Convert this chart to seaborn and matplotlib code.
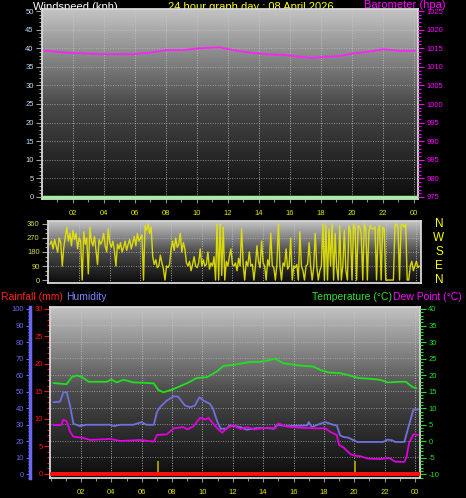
import numpy as np
import pandas as pd
import seaborn as sns
import matplotlib.pyplot as plt
from matplotlib.colors import LinearSegmentedColormap
from matplotlib.ticker import MultipleLocator, FixedLocator, FixedFormatter
import matplotlib.transforms as mtransforms

# ---- data ----
baro_hours = [0.17, 1.6, 3.76, 5.9, 7.0, 8.06, 9.1, 10.2, 11.5, 12.35, 13.4, 14.5,
              15.6, 16.7, 17.4, 18.4, 19.25, 20.1, 21.0, 22.0, 23.1, 24.07]
baro_hpa = [1014.3, 1013.8, 1013.4, 1013.4, 1013.8, 1014.5, 1014.5, 1015.0, 1015.2,
            1014.5, 1013.8, 1013.4, 1013.2, 1012.7, 1012.4, 1012.7, 1012.9, 1013.6,
            1014.0, 1014.7, 1014.3, 1014.3]

speed_hours = [0.0, 24.3]
speed_kph = [0, 0]

# wind direction, one reading every 6 minutes
wind_dir = [
    230, 250, 200, 260, 220, 180, 270, 240, 90, 210,
    280, 340, 250, 300, 220, 320, 260, 300, 200, 270,
    250, 0, 310, 230, 270, 40, 340, 250, 220, 280,
    190, 100, 260, 230, 250, 300, 220, 180, 330, 240,
    210, 250, 190, 90, 230, 200, 240, 180, 210, 250,
    190, 230, 260, 200, 240, 280, 220, 300, 250, 270,
    290, 0, 350, 320, 360, 300, 340, 150, 100, 130,
    80, 90, 160, 110, 70, 0, 90, 80, 100, 200,
    250, 190, 270, 210, 230, 300, 180, 240, 200, 110,
    90, 120, 60, 100, 150, 90, 80, 110, 200, 90,
    130, 90, 100, 180, 70, 110, 90, 150, 0, 360,
    0, 360, 30, 340, 0, 120, 90, 150, 200, 100,
    90, 110, 60, 140, 90, 330, 100, 0, 120, 90,
    180, 90, 100, 0, 90, 220, 120, 80, 250, 110,
    90, 0, 130, 90, 300, 90, 80, 0, 100, 360,
    90, 0, 110, 90, 200, 70, 90, 270, 0, 90,
    80, 100, 0, 310, 90, 60, 0, 90, 100, 240,
    90, 0, 80, 300, 90, 0, 60, 90, 360, 0,
    350, 0, 330, 90, 360, 0, 300, 80, 0, 350,
    0, 90, 320, 60, 0, 350, 310, 0, 360, 330,
    0, 350, 340, 300, 0, 360, 330, 0, 310, 350,
    330, 330, 340, 0, 320, 350, 0, 340, 330, 0,
    0, 0, 0, 0, 0, 350, 360, 340, 0, 350,
    360, 340, 360, 0, 0, 90, 120, 60, 90, 120,
    80, 90,
]
dir_step_h = 0.1

temp_hours = [0.18, 1.06, 1.39, 1.72, 2.05, 2.5, 3.7, 4.0, 4.35, 4.8, 5.45, 6.1, 6.8,
              7.1, 7.43, 8.1, 9.0, 9.6, 10.3, 10.95, 11.4, 12.05, 13.15, 13.8, 14.25,
              14.8, 15.3, 16.4, 17.3, 17.75, 18.3, 19.07, 19.7, 20.3, 21.05, 21.7,
              22.2, 23.0, 23.4, 23.8, 24.1]
temp_c = [17.6, 17.25, 19.4, 19.9, 19.5, 18.0, 18.0, 18.7, 17.8, 18.6, 17.8, 17.7,
          17.5, 15.5, 14.8, 15.8, 17.6, 19.1, 19.4, 21.1, 22.8, 23.1, 24.0, 24.0,
          24.4, 25.0, 23.6, 22.9, 22.6, 21.6, 20.8, 20.6, 19.9, 19.1, 18.9, 18.6,
          17.8, 18.0, 18.0, 16.5, 16.0]

hum_hours = [0.18, 0.62, 0.84, 1.06, 1.28, 1.5, 1.94, 2.37, 3.9, 4.2, 4.6, 5.45, 6.0,
             6.3, 6.8, 7.0, 7.2, 7.65, 8.1, 8.4, 8.85, 9.2, 9.5, 9.8, 10.07, 10.5,
             10.7, 10.95, 11.2, 11.6, 11.8, 12.5, 12.9, 13.6, 14.25, 14.7, 14.9,
             15.6, 16.9, 17.0, 17.2, 17.75, 18.1, 18.6, 18.85, 19.07, 19.3, 19.6,
             20.2, 21.9, 22.2, 22.5, 22.7, 23.3, 23.6, 23.9, 24.2]
hum_pct = [43.6, 44, 49.6, 49.6, 41.6, 30.6, 29.2, 30, 30, 29.2, 30, 30, 31.6, 30,
           30, 37.6, 40.6, 44.6, 47.2, 47, 41.6, 40.6, 41.6, 46.6, 44.6, 42.6, 39.6,
           32.6, 27.6, 27.6, 29.6, 28.6, 27, 28, 28, 27.6, 30, 29.2, 29.6, 31.6,
           28.6, 30.6, 31.6, 30, 29.6, 23.6, 22.6, 22.2, 19.6, 19.6, 21, 20.6, 19.6,
           19.6, 29.6, 39.2, 39.2]

dew_hours = [0.18, 0.7, 0.84, 1.06, 1.28, 1.5, 2.15, 2.6, 3.9, 4.6, 5.9, 6.8, 7.0,
             7.65, 8.1, 8.75, 9.0, 9.4, 9.85, 10.2, 10.4, 10.7, 11.05, 11.3, 11.6,
             12.05, 12.5, 12.9, 13.4, 14.25, 14.8, 15.0, 15.6, 16.4, 17.5, 18.1,
             18.4, 18.85, 19.0, 19.3, 19.75, 20.07, 20.4, 20.85, 21.7, 22.3, 22.7,
             23.3, 23.45, 23.6, 23.9, 24.2]
dew_c = [4.9, 4.9, 6.6, 6.0, 2.9, 1.4, 1.0, 0.4, 0.7, 0.1, 0.4, -0.1, 1.9, 2.1, 3.9,
         4.3, 3.6, 4.5, 7.1, 6.6, 7.1, 5.4, 3.6, 2.6, 3.9, 4.9, 3.7, 4.3, 3.6, 4.1,
         3.9, 5.4, 4.4, 4.1, 3.9, 3.9, 2.9, 1.9, -1.1, -1.9, -3.9, -4.4, -4.5, -5.2,
         -5.4, -5.0, -6.2, -6.2, -4.7, -0.6, 2.1, 1.9]

rain_hours = [0.0, 24.3]
rain_mm = [0, 0]
rain_mark_hours = [7.08, 20.07]
rain_mark_mm = [2.4, 2.4]

hour_ticks = [2, 4, 6, 8, 10, 12, 14, 16, 18, 20, 22, 24]
hour_labels = ["02", "04", "06", "08", "10", "12", "14", "16", "18", "20", "22", "00"]
compass_labels = ["N", "W", "S", "E", "N"]
compass_deg = [360, 270, 180, 90, 0]

# ---- style ----
sns.set_style("dark")
plt.rcParams['font.family'] = ['Liberation Sans', 'DejaVu Sans']
plt.rcParams['axes.unicode_minus'] = False

W, H = 466, 498
fig = plt.figure(figsize=(W / 100, H / 100), dpi=100, facecolor='black')

def box(l, t, r, b):
    return [l / W, 1 - b / H, (r - l) / W, (b - t) / H]

grad = LinearSegmentedColormap.from_list("bg", ["#0c0c0c", "#4a4a4a", "#c4c4c4"])
YEL = "#e8e800"
FS = 5.5
TFS = 8

def background(ax):
    x0, x1 = ax.get_xlim()
    y0, y1 = ax.get_ylim()
    g = np.linspace(0, 1, 256).reshape(-1, 1)
    ax.imshow(g, extent=[x0, x1, y0, y1], origin='lower', aspect='auto',
              cmap=grad, zorder=0, interpolation='bilinear')
    ax.set_xlim(x0, x1)
    ax.set_ylim(y0, y1)

def frame(ax):
    ax.set_facecolor('black')
    for s in ax.spines.values():
        s.set_color('#d8d8d8')
        s.set_linewidth(1.3)
    ax.grid(False)

def hour_axis(ax):
    ax.xaxis.set_major_locator(FixedLocator(hour_ticks))
    ax.xaxis.set_minor_locator(MultipleLocator(1))
    ax.xaxis.set_major_formatter(FixedFormatter(hour_labels))
    ax.tick_params(axis='x', which='major', colors='#909090', labelcolor=YEL,
                   labelsize=FS, length=3, width=0.8, pad=5, direction='out', bottom=True)
    ax.tick_params(axis='x', which='minor', colors='#909090', length=2, width=0.8,
                   direction='out', bottom=True)
    ax.set_xlabel("")

def vgrid(ax, ys):
    for h in hour_ticks:
        ax.axvline(h, color='#c8c8c8', lw=0.7, ls=(0, (1, 1.5)), zorder=1, alpha=0.8)
    for y in ys:
        ax.axhline(y, color='#c8c8c8', lw=0.7, ls=(0, (1, 1.5)), zorder=1, alpha=0.6)

# ================= top panel: windspeed / barometer =================
fig.text(33 / W, 1 - 10 / H, "Windspeed (kph)", color='white', fontsize=TFS,
         va='baseline', zorder=-1)
fig.text(251 / W, 1 - 10 / H, "24 hour graph day : 08 April 2026", color='#ffff00',
         fontsize=TFS, va='baseline', ha='center', zorder=-1)
fig.text(446 / W, 1 - 7.5 / H, "Barometer (hpa)", color='#ff00ff', fontsize=TFS,
         va='baseline', ha='right', zorder=-1)

ax1 = fig.add_axes(box(42, 9, 418, 199))
frame(ax1)
ax1.set_xlim(0.02, 24.28)
ax1.set_ylim(-0.54, 50.54)
background(ax1)
vgrid(ax1, range(5, 50, 5))
sns.lineplot(x=speed_hours, y=speed_kph, ax=ax1, color='#a0f0a0', lw=2.5, zorder=4)
ax1.yaxis.set_major_locator(MultipleLocator(5))
ax1.yaxis.set_minor_locator(MultipleLocator(1))
ax1.tick_params(axis='y', which='major', colors='#a0a0a0', labelcolor='#c0dcff',
                labelsize=FS, length=4, width=0.8, direction='out', left=True, pad=2)
ax1.tick_params(axis='y', which='minor', colors='#a0a0a0', length=2, width=0.8,
                direction='out', left=True)
hour_axis(ax1)
ax1.set_ylabel("")

ax1b = ax1.twinx()
ax1b.set_ylim(974.46, 1025.54)
sns.lineplot(x=baro_hours, y=baro_hpa, ax=ax1b, color='#ff20ff', lw=1.3, zorder=5)
ax1b.yaxis.set_major_locator(MultipleLocator(5))
ax1b.yaxis.set_minor_locator(MultipleLocator(1))
ax1b.tick_params(axis='y', which='major', colors='#ff00ff', labelcolor='#ff00ff',
                 labelsize=FS, length=4, width=0.8, direction='out', right=True, pad=2)
ax1b.tick_params(axis='y', which='minor', colors='#ff00ff', length=2, width=0.8,
                 direction='out', right=True)
ax1b.set_ylabel("")
ax1b.grid(False)
for s in ax1b.spines.values():
    s.set_visible(False)

# ================= middle panel: wind direction =================
ax2 = fig.add_axes(box(48, 221, 421, 283))
frame(ax2)
ax2.set_xlim(-0.03, 24.3)
ax2.set_ylim(-19, 379)
background(ax2)
vgrid(ax2, [90, 180, 270])
dir_df = pd.DataFrame({"hour": (np.arange(len(wind_dir)) + 1) * dir_step_h,
                       "dir": wind_dir})
sns.lineplot(data=dir_df, x="hour", y="dir", ax=ax2, color=YEL, lw=1.0, zorder=4,
             alpha=0.9)
ax2.yaxis.set_major_locator(FixedLocator([0, 90, 180, 270, 360]))
ax2.yaxis.set_minor_locator(MultipleLocator(30))
ax2.tick_params(axis='y', which='major', colors='#a0a0a0', labelcolor='#d8d840',
                labelsize=FS, length=4, width=0.8, direction='out', left=True, pad=2)
ax2.tick_params(axis='y', which='minor', colors='#a0a0a0', length=2, width=0.8,
                direction='out', left=True)
ax2.set_xticks([])
ax2.set_xlabel("")
ax2.set_ylabel("")
trans = mtransforms.blended_transform_factory(ax2.transAxes, ax2.transData)
for lab, d in zip(compass_labels, compass_deg):
    ax2.text(1.048, d, lab, transform=trans, color='#ffff00', fontsize=8.5,
             ha='center', va='center')

# ================= bottom panel: rain / humidity / temperature =================
fig.text(1 / W, 1 - 300 / H, "Rainfall (mm)", color='#ff2020', fontsize=7.5,
         va='baseline')
fig.text(66 / W, 1 - 300 / H, "Humidity", color='#8080ff', fontsize=7.5, va='baseline')
fig.text(392 / W, 1 - 300 / H, "Temperature (°C)", color='#30e030', fontsize=7.5,
         va='baseline', ha='right')
fig.text(393 / W, 1 - 300 / H, "Dew Point (°C)", color='#ff00ff', fontsize=7.5,
         va='baseline')

ax3 = fig.add_axes(box(50, 307, 420, 478))
frame(ax3)
ax3.set_xlim(-0.04, 24.33)
ax3.set_ylim(-0.73, 30.36)
background(ax3)
vgrid(ax3, np.arange(3, 30, 3))
sns.lineplot(x=rain_hours, y=rain_mm, ax=ax3, color='#ff1010', lw=2.8, zorder=6)
ax3.vlines(rain_mark_hours, 0, rain_mark_mm, color='#b0a000', lw=1.3, zorder=5)
ax3.yaxis.set_major_locator(MultipleLocator(5))
ax3.yaxis.set_minor_locator(MultipleLocator(1))
ax3.tick_params(axis='y', which='major', colors='#ff1010', labelcolor='#ff1010',
                labelsize=FS, length=4, width=0.8, direction='out', left=True, pad=1)
ax3.tick_params(axis='y', which='minor', colors='#ff1010', length=2, width=0.8,
                direction='out', left=True)
hour_axis(ax3)
ax3.set_ylabel("")

ax3h = ax3.twinx()
ax3h.set_ylim(-2.2, 101.2)
ax3h.yaxis.set_label_position('left')
ax3h.yaxis.tick_left()
ax3h.spines['left'].set_position(('outward', 14.5))
ax3h.spines['left'].set_visible(True)
ax3h.spines['left'].set_color('#6868f0')
ax3h.spines['left'].set_linewidth(2.5)
for k in ['right', 'top', 'bottom']:
    ax3h.spines[k].set_visible(False)
sns.lineplot(x=hum_hours, y=hum_pct, ax=ax3h, color='#7070e0', lw=1.3, zorder=5)
ax3h.yaxis.set_major_locator(MultipleLocator(10))
ax3h.yaxis.set_minor_locator(MultipleLocator(2))
ax3h.tick_params(axis='y', which='major', colors='#6868f0', labelcolor='#6868f0',
                 labelsize=FS, length=3, width=0.8, direction='out', left=True,
                 right=False, labelleft=True, labelright=False, pad=1)
ax3h.tick_params(axis='y', which='minor', colors='#6868f0', length=1.5, width=0.8,
                 direction='out', left=True, right=False)
ax3h.set_ylabel("")
ax3h.grid(False)

ax3t = ax3.twinx()
ax3t.set_ylim(-11.1, 40.6)
for s in ax3t.spines.values():
    s.set_visible(False)
sns.lineplot(x=temp_hours, y=temp_c, ax=ax3t, color='#20e020', lw=1.3, zorder=5)
sns.lineplot(x=dew_hours, y=dew_c, ax=ax3t, color='#e000e0', lw=1.3, zorder=5)
ax3t.yaxis.set_major_locator(MultipleLocator(5))
ax3t.yaxis.set_minor_locator(MultipleLocator(1))
ax3t.tick_params(axis='y', which='major', colors='#20e020', labelcolor='#20e020',
                 labelsize=FS, length=4, width=0.8, direction='out', right=True, pad=2)
ax3t.tick_params(axis='y', which='minor', colors='#20e020', length=2, width=0.8,
                 direction='out', right=True)
ax3t.set_ylabel("")
ax3t.grid(False)

fig.savefig("out.png", dpi=100, facecolor='black')
